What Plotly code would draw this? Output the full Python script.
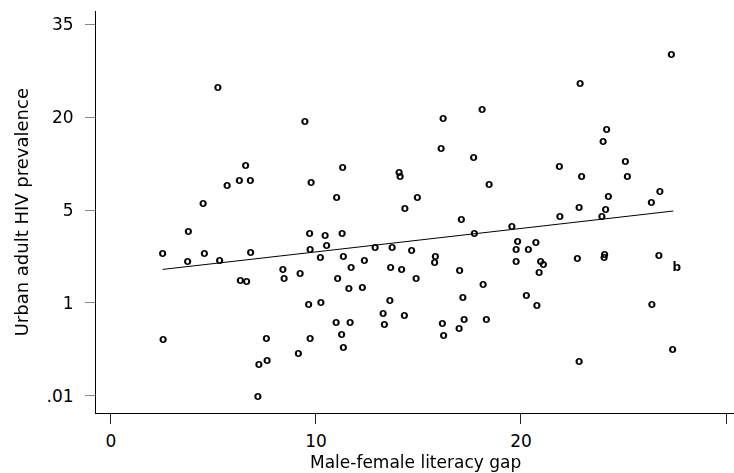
import plotly.graph_objects as go

# Male-female literacy gap (percentage points) for each country
gap = [
    5.22, 9.46, 6.57, 6.26, 6.80, 5.67, 9.76, 4.50, 3.77, 18.10,
    16.20, 16.11, 17.69, 11.30, 14.06, 14.10, 11.01, 14.94, 18.44, 14.34,
    17.09, 19.55, 27.33, 22.89, 24.18, 24.00, 21.87, 25.09, 22.96, 25.19,
    26.78, 26.36, 24.26, 22.83, 24.13, 21.90, 23.94, 9.69, 10.44, 11.27,
    2.52, 4.55, 6.81, 3.74, 5.30, 9.72, 10.22, 8.39, 9.23, 8.45,
    6.31, 6.62, 9.64, 10.24, 2.55, 7.58, 9.72, 9.14, 7.62, 7.22,
    7.17, 10.52, 11.33, 12.36, 12.89, 13.72, 14.67, 11.72, 13.64, 14.18,
    15.82, 15.79, 17.72, 19.84, 19.76, 20.36, 19.76, 11.06, 11.60, 12.26,
    14.89, 17.01, 18.15, 17.16, 20.26, 13.61, 13.28, 14.31, 13.33, 10.98,
    11.67, 11.25, 11.33, 16.16, 17.22, 18.31, 16.98, 16.23, 20.73, 20.96,
    21.09, 20.89, 22.75, 24.08, 24.05, 26.72, 27.60, 20.77, 26.39, 27.40,
    22.83,
]

# Urban adult HIV prevalence, on the transformed plotting scale
# (0 = .01, 1 = 1, 2 = 5, 3 = 20, 4 = 35)
hiv_scale = [
    3.317, 2.951, 2.477, 2.316, 2.316, 2.262, 2.294, 2.068, 1.766, 3.080,
    2.983, 2.660, 2.563, 2.456, 2.395, 2.359, 2.132, 2.132, 2.272, 2.014,
    1.896, 1.822, 3.662, 3.354, 2.865, 2.736, 2.466, 2.520, 2.359, 2.359,
    2.197, 2.079, 2.137, 2.025, 2.000, 1.928, 1.921, 1.745, 1.723, 1.745,
    1.529, 1.529, 1.540, 1.443, 1.454, 1.566, 1.480, 1.357, 1.314, 1.260,
    1.239, 1.228, 0.980, 1.002, 0.603, 0.614, 0.614, 0.452, 0.377, 0.338,
    -0.011, 1.616, 1.497, 1.454, 1.588, 1.594, 1.562, 1.379, 1.379, 1.357,
    1.497, 1.432, 1.745, 1.659, 1.572, 1.572, 1.443, 1.260, 1.152, 1.163,
    1.260, 1.346, 1.195, 1.055, 1.077, 1.023, 0.883, 0.862, 0.765, 0.786,
    0.786, 0.657, 0.517, 0.775, 0.819, 0.819, 0.722, 0.646, 1.648, 1.443,
    1.413, 1.325, 1.475, 1.515, 1.488, 1.505, 1.372, 0.969, 0.982, 0.498,
    0.366,
]

# Plot symbol drawn for each observation
symbols = ["o"] * len(gap)
symbols[106] = "b"

# Linear fit endpoints
fit_gap = [2.52, 27.43]
fit_scale = [1.361, 1.989]

# Axis ticks
x_ticks = [0, 10, 20, 30]
y_ticks = [0, 1, 2, 3, 4]
y_tick_labels = [".01", "1", "5", "20", "35"]

FONT = "DejaVu Sans"

fig = go.Figure()

fig.add_trace(go.Scatter(
    x=fit_gap, y=fit_scale, mode="lines",
    line=dict(color="black", width=1),
    hoverinfo="skip", showlegend=False,
))

# Observations drawn as letter symbols
fig.add_trace(go.Scatter(
    x=gap, y=hiv_scale, mode="text", text=symbols,
    textposition="middle center",
    textfont=dict(family=FONT, size=12, color="black", weight="bold"),
    opacity=0.99,
    showlegend=False,
))

fig.update_layout(
    width=734, height=473,
    margin=dict(l=96, r=0, t=11, b=60, pad=0),
    paper_bgcolor="white", plot_bgcolor="white",
    font=dict(family=FONT, color="black"),
    xaxis=dict(
        range=[-0.73, 30.39],
        tickvals=x_ticks,
        showline=True, linecolor="black", linewidth=1,
        ticks="outside", ticklen=10, tickwidth=1, tickcolor="#222",
        tickfont=dict(family=FONT, size=17, color="black"),
        ticklabelstandoff=3,
        showgrid=False, zeroline=False, automargin=False,
    ),
    yaxis=dict(
        range=[-0.183, 4.14],
        tickvals=y_ticks, ticktext=y_tick_labels,
        showline=True, linecolor="black", linewidth=1,
        ticks="outside", ticklen=10, tickwidth=1, tickcolor="#888",
        tickfont=dict(family=FONT, size=17, color="black"),
        ticklabelstandoff=8,
        showgrid=False, zeroline=False, automargin=False,
    ),
    annotations=[
        dict(text="Male-female literacy gap", xref="paper", yref="paper",
             x=0.5, y=-0.122, xanchor="center", yanchor="middle",
             showarrow=False, font=dict(family=FONT, size=17, color="black")),
        dict(text="Urban adult HIV prevalence", xref="paper", yref="paper",
             x=-0.117, y=0.5, xanchor="center", yanchor="middle",
             textangle=-90, showarrow=False,
             font=dict(family=FONT, size=18, color="black")),
    ],
)

fig.write_html("out.html")
